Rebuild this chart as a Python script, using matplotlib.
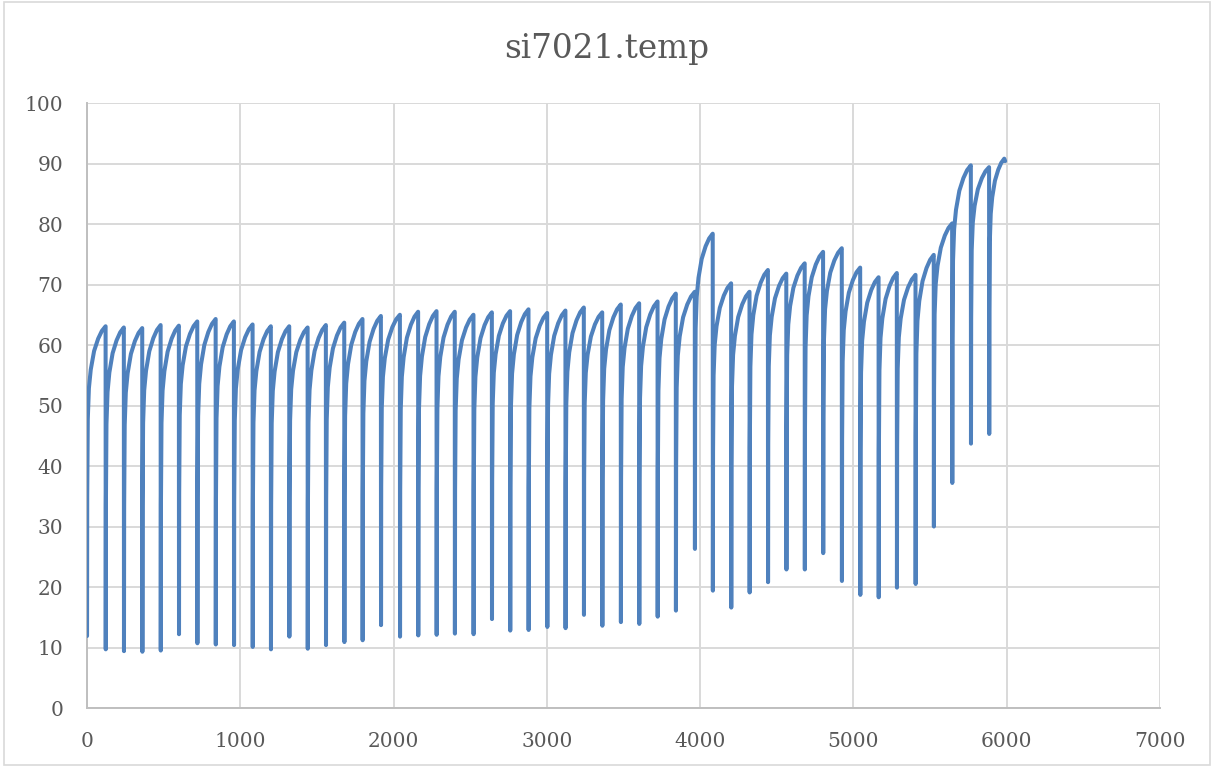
import matplotlib.pyplot as plt
from matplotlib.patches import Rectangle

# sample index where each heating cycle starts (the sharp drops)
cycle_start = [0, 122, 241, 361, 481, 600, 720, 840, 959, 1081,
               1200, 1320, 1440, 1559, 1679, 1798, 1918, 2042, 2161, 2281,
               2400, 2522, 2642, 2761, 2881, 3003, 3122, 3242, 3362, 3483,
               3603, 3723, 3842, 3966, 4083, 4203, 4323, 4443, 4563, 4683,
               4803, 4925, 5045, 5165, 5284, 5406, 5525, 5645, 5767, 5886]
# temperature at the bottom of each drop
cycle_low = [11.9, 9.7, 9.4, 9.3, 9.5, 12.2, 10.7, 10.5, 10.4, 10.1,
             9.7, 11.8, 9.8, 10.4, 10.9, 11.2, 13.7, 11.8, 12.0, 12.1,
             12.3, 12.2, 14.7, 12.8, 12.9, 13.4, 13.2, 15.4, 13.6, 14.2,
             13.9, 15.1, 16.1, 26.3, 19.4, 16.6, 19.1, 20.8, 22.9, 22.9,
             25.6, 21.0, 18.7, 18.3, 19.9, 20.5, 30.0, 37.2, 43.7, 45.3]
# temperature reached just before the next drop
cycle_peak = [63.1, 62.9, 62.8, 63.3, 63.2, 63.9, 64.3, 63.9, 63.4, 63.1,
              63.1, 62.9, 63.3, 63.7, 64.3, 64.8, 65.0, 65.5, 65.6, 65.5,
              65.0, 65.4, 65.6, 65.9, 65.3, 65.7, 66.2, 65.4, 66.7, 66.9,
              67.2, 68.5, 68.8, 78.4, 70.2, 68.8, 72.4, 71.8, 73.5, 75.4,
              76.0, 72.8, 71.2, 71.9, 71.6, 74.9, 80.1, 89.7, 89.4, 90.8]
series_end_x = 5990
series_end_y = 90.4

# recovery profile within one cycle: share of cycle elapsed vs share of rise
rise_t = [0.0, 0.01, 0.04, 0.1, 0.2, 0.38, 0.6, 0.8, 1.0]
rise_f = [0.0, 0.45, 0.7, 0.8, 0.86, 0.92, 0.96, 0.985, 1.0]

x_ticks = [0, 1000, 2000, 3000, 4000, 5000, 6000, 7000]
y_ticks = [0, 10, 20, 30, 40, 50, 60, 70, 80, 90, 100]

LINE = "#4F81BD"
GRID = "#D9D9D9"
TEXT = "#595959"

xs, ys = [], []
for i, start in enumerate(cycle_start):
    if i + 1 < len(cycle_start):
        span = cycle_start[i + 1] - start - 1
    else:
        span = series_end_x - 6 - start
    lo, hi = cycle_low[i], cycle_peak[i]
    for t, f in zip(rise_t, rise_f):
        xs.append(start + t * span)
        ys.append(lo + f * (hi - lo))
xs.append(series_end_x)
ys.append(series_end_y)

plt.rcParams["font.family"] = ["DejaVu Serif"]

fig = plt.figure(figsize=(12.14, 7.67), dpi=100)
ax = fig.add_axes([0.0717, 0.0769, 0.9555 - 0.0717, 0.8657 - 0.0769])

ax.plot(xs, ys, color=LINE, lw=2.9, solid_joinstyle="round",
        solid_capstyle="round", zorder=3)

ax.set_xlim(0, 7000)
ax.set_ylim(0, 100)
ax.set_xticks(x_ticks)
ax.set_yticks(y_ticks)
ax.grid(True, color=GRID, lw=1.4, zorder=0)
ax.tick_params(length=0, labelsize=14.5, labelcolor=TEXT)
ax.tick_params(axis="x", pad=17)
ax.tick_params(axis="y", pad=17)

for side in ("top", "right"):
    ax.spines[side].set_visible(False)
for side in ("left", "bottom"):
    ax.spines[side].set_color("#BFBFBF")
    ax.spines[side].set_linewidth(1.4)

fig.text(0.5, 0.936, "si7021.temp", ha="center", va="center",
         fontsize=23.5, color=TEXT)

# thin frame around the whole chart area
fig.patches.append(Rectangle((0.003, 0.003), 0.994, 0.994,
                             transform=fig.transFigure, fill=False,
                             edgecolor=GRID, lw=1.2))

fig.savefig("out.png", dpi=100)
